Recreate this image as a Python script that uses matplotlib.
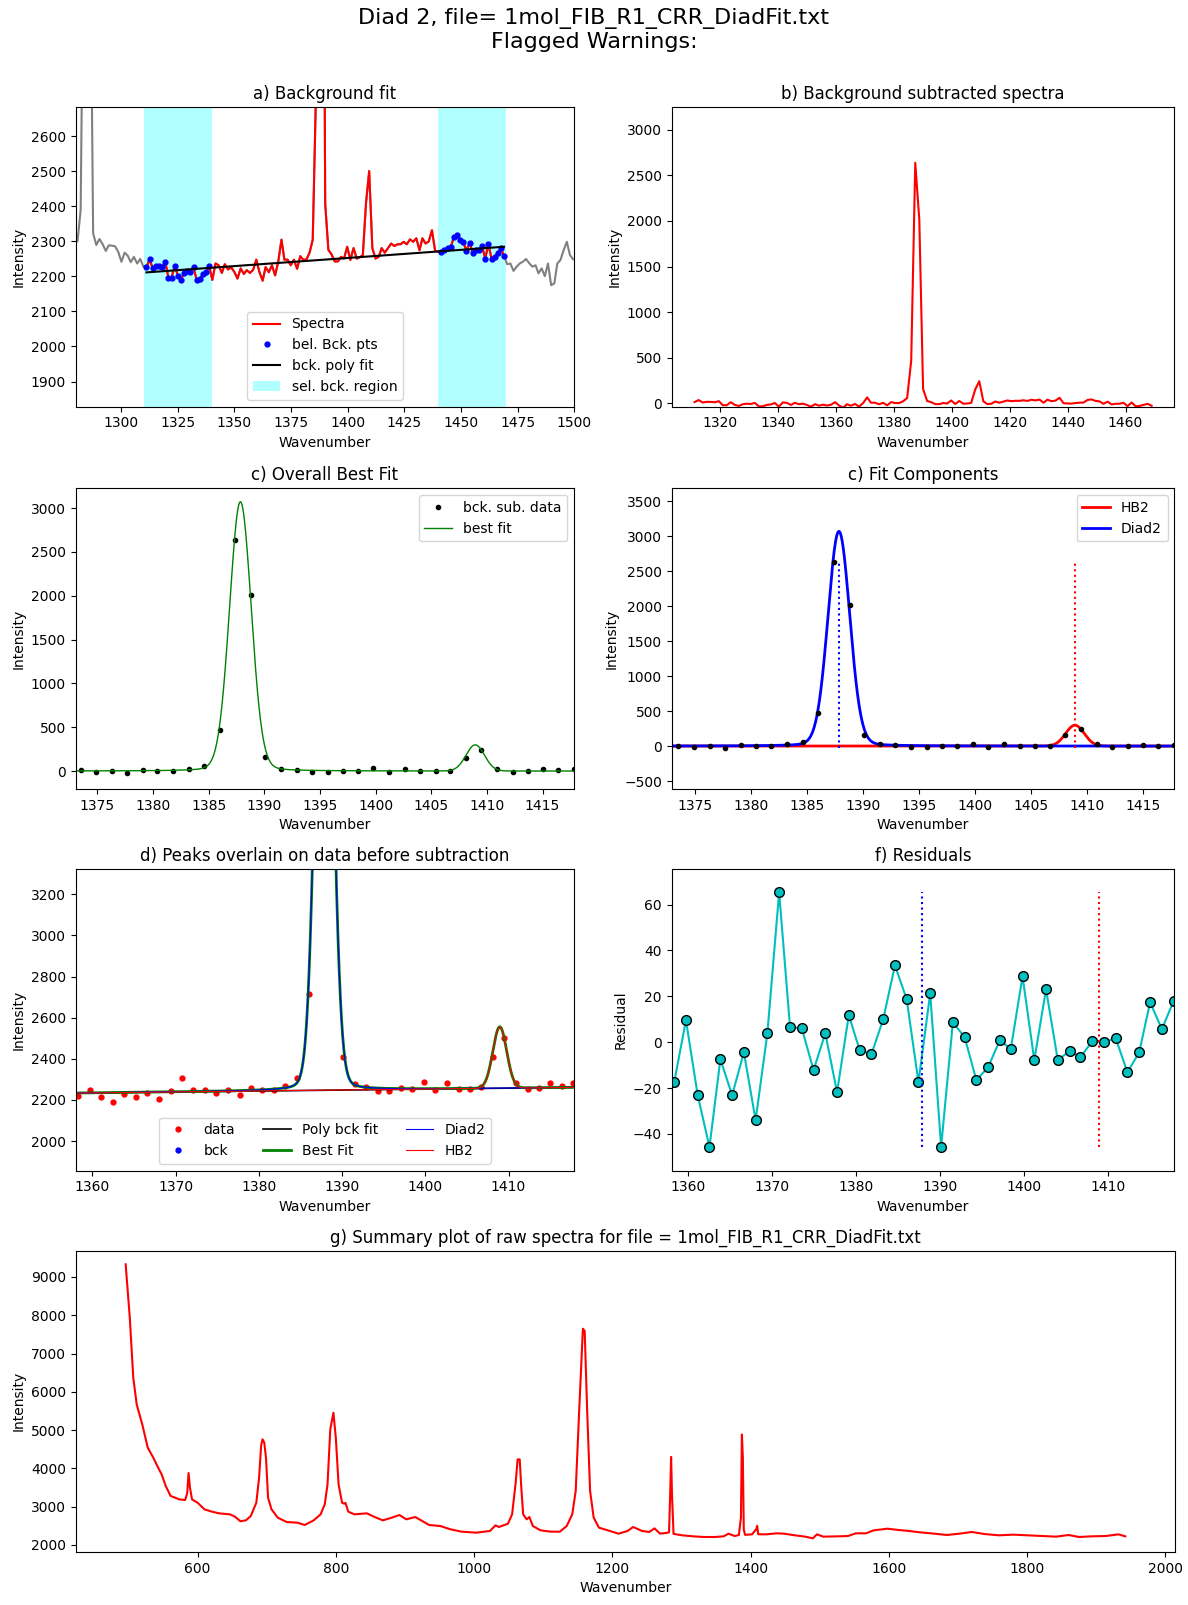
import numpy as np
import matplotlib.pyplot as plt

filename = '1mol_FIB_R1_CRR_DiadFit.txt'

# summary spectrum
raw_wn = [496, 502, 507, 512, 520, 528, 536, 543, 548, 554,
          561, 574, 582, 585, 587, 589, 592, 600, 610, 621,
          631, 647, 654, 662, 670, 677, 685, 689, 692, 694,
          696.5, 699, 702, 707, 716, 729, 744.5, 755, 768, 778,
          784, 788, 792, 796.5, 800, 804, 809, 812, 814, 818,
          827, 845, 855, 868, 881, 892, 902, 915, 925, 935,
          951, 966, 982, 1003, 1023, 1031, 1036, 1049, 1055, 1060,
          1063, 1066, 1068, 1071, 1076, 1080, 1085, 1096, 1111, 1124,
          1134, 1142, 1147, 1152, 1157.4, 1160, 1163.6, 1167.8, 1173, 1180.6,
          1193.5, 1209, 1222, 1230, 1243, 1253.5, 1261, 1269, 1277, 1282,
          1283.6, 1285, 1286.3, 1288.5, 1301, 1317, 1332, 1348, 1361, 1368,
          1377, 1383, 1386, 1387.4, 1388.8, 1390.1, 1392, 1402, 1408, 1409.5,
          1411, 1422.5, 1438, 1448, 1464, 1479, 1490, 1496, 1505, 1526,
          1541, 1552, 1567, 1578, 1598, 1614, 1629, 1645, 1666, 1684,
          1702, 1720, 1738, 1759, 1780, 1800, 1821, 1842, 1860, 1875,
          1893, 1914, 1932, 1942]
raw_int = [9330, 7930, 6370, 5670, 5150, 4540, 4280, 4020, 3845, 3540,
           3280, 3190, 3175, 3350, 3880, 3500, 3190, 3105, 2930, 2870,
           2827, 2800, 2740, 2620, 2645, 2757, 3105, 3757, 4600, 4760,
           4672, 4280, 3236, 2931, 2714, 2600, 2583, 2522, 2644, 2801,
           3062, 3584, 5020, 5453, 4800, 3584, 3105, 3080, 3100, 2870,
           2801, 2827, 2740, 2644, 2714, 2783, 2670, 2731, 2627, 2522,
           2496, 2409, 2348, 2322, 2366, 2513, 2470, 2557, 2801, 3600,
           4236, 4236, 3584, 2801, 2670, 2731, 2496, 2383, 2348, 2348,
           2496, 2801, 3410, 5497, 7647, 7586, 5497, 3410, 2714, 2452,
           2383, 2296, 2366, 2470, 2366, 2340, 2435, 2296, 2313, 2330,
           3300, 4300, 3300, 2290, 2253, 2226, 2209, 2209, 2226, 2296,
           2235, 2260, 2714, 4885, 4261, 2407, 2265, 2278, 2409, 2501,
           2281, 2278, 2305, 2296, 2253, 2218, 2174, 2278, 2218, 2226,
           2235, 2305, 2305, 2383, 2426, 2392, 2366, 2331, 2296, 2261,
           2296, 2340, 2287, 2253, 2270, 2253, 2235, 2218, 2261, 2209,
           2226, 2235, 2278, 2226]

# raw spectrum around diad 2 (panels a-f)
wn = [1279.4,
      1280.8, 1282.2, 1283.6, 1285.0, 1286.3, 1287.7, 1289.1, 1290.5, 1291.9, 1293.3,
      1294.6, 1296.0, 1297.4, 1298.8, 1300.2, 1301.6, 1302.9, 1304.3, 1305.7, 1307.1,
      1308.5, 1309.9, 1311.2, 1312.6, 1314.0, 1315.4, 1316.8, 1318.2, 1319.6, 1320.9,
      1322.3, 1323.7, 1325.1, 1326.5, 1327.9, 1329.2, 1330.6, 1332.0, 1333.4, 1334.8,
      1336.2, 1337.5, 1338.9, 1340.3, 1341.7, 1343.1, 1344.5, 1345.8, 1347.2, 1348.6,
      1350.0, 1351.4, 1352.8, 1354.2, 1355.5, 1356.9, 1358.3, 1359.7, 1361.1, 1362.5,
      1363.8, 1365.2, 1366.6, 1368.0, 1369.4, 1370.8, 1372.1, 1373.5, 1374.9, 1376.3,
      1377.7, 1379.1, 1380.4, 1381.8, 1383.2, 1384.6, 1386.0, 1387.4, 1388.8, 1390.1,
      1391.5, 1392.9, 1394.3, 1395.7, 1397.1, 1398.4, 1399.8, 1401.2, 1402.6, 1404.0,
      1405.4, 1406.7, 1408.1, 1409.5, 1410.9, 1412.3, 1413.7, 1415.0, 1416.4, 1417.8,
      1419.2, 1420.6, 1422.0, 1423.4, 1424.7, 1426.1, 1427.5, 1428.9, 1430.3, 1431.7,
      1433.0, 1434.4, 1435.8, 1437.2, 1438.6, 1440.0, 1441.3, 1442.7, 1444.1, 1445.5,
      1446.9, 1448.3, 1449.6, 1451.0, 1452.4, 1453.8, 1455.2, 1456.6, 1458.0, 1459.3,
      1460.7, 1462.1, 1463.5, 1464.9, 1466.3, 1467.6, 1469.0, 1470.4, 1471.8, 1473.2,
      1474.6, 1475.9, 1477.3, 1478.7, 1480.1, 1481.5, 1482.9, 1484.2, 1485.6, 1487.0,
      1488.4, 1489.8, 1491.2, 1492.5, 1493.9, 1495.3, 1496.7, 1498.1, 1499.5]
counts = [2300,
          2300, 2390, 3300, 4300, 3300, 2323, 2290, 2307, 2292, 2273,
          2289, 2288, 2286, 2270, 2242, 2268, 2260, 2241, 2256, 2237,
          2250, 2228, 2226, 2249, 2223, 2231, 2231, 2228, 2240, 2197,
          2197, 2231, 2202, 2191, 2211, 2217, 2214, 2227, 2189, 2192,
          2208, 2212, 2230, 2190, 2237, 2232, 2210, 2235, 2220, 2226,
          2213, 2194, 2223, 2207, 2218, 2210, 2219, 2248, 2212, 2188,
          2227, 2212, 2232, 2203, 2243, 2305, 2248, 2248, 2232, 2248,
          2222, 2258, 2248, 2248, 2268, 2305, 2714, 4885, 4261, 2407,
          2276, 2263, 2243, 2243, 2256, 2251, 2285, 2247, 2281, 2251,
          2255, 2261, 2409, 2501, 2281, 2251, 2256, 2281, 2268, 2281,
          2294, 2287, 2292, 2292, 2299, 2292, 2306, 2299, 2309, 2275,
          2309, 2294, 2300, 2332, 2273, 2271, 2270, 2277, 2281, 2284,
          2313, 2319, 2304, 2299, 2273, 2297, 2268, 2275, 2277, 2287,
          2251, 2292, 2251, 2256, 2268, 2280, 2259, 2235, 2237, 2216,
          2228, 2237, 2242, 2250, 2238, 2228, 2232, 2209, 2223, 2201,
          2237, 2175, 2180, 2237, 2247, 2275, 2299, 2261, 2249]

# residuals (data - fit) between 1358 and 1418
resid = [-17.4, 9.6, -23.1, -45.7, -7.4, -23.1, -4.4, -34.0, 3.9, 65.3,
         6.5, 6.1, -12.2, 3.9, -21.8, 11.8, -3.5, -5.2, 10.0, 33.5,
         18.7, -17.4, 21.3, -45.7, 8.7, 2.2, -16.5, -10.9, 0.9, -3.0,
         28.7, -7.8, 23.1, -7.8, -3.9, -6.5, 0.4, 0.0, 1.7, -13.1,
         -4.4, 17.4, 5.7, 18.0]

# fitted peak parameters
diad2_cen, diad2_height, diad2_fwhm, diad2_lfrac = 1387.85, 3072, 2.3, 0.08
hb2_cen, hb2_height, hb2_fwhm = 1408.95, 298, 1.95

bck_lo = (1310, 1340)
bck_hi = (1440, 1470)


def pvoigt(x, cen, height, fwhm, frac=0.0):
    g = np.exp(-4 * np.log(2) * (x - cen) ** 2 / fwhm ** 2)
    l = 1 / (1 + 4 * (x - cen) ** 2 / fwhm ** 2)
    return height * ((1 - frac) * g + frac * l)


wn = np.array(wn)
counts = np.array(counts)
in_range = (wn >= bck_lo[0]) & (wn <= bck_hi[1])
is_bck = ((wn >= bck_lo[0]) & (wn <= bck_lo[1])) | ((wn > bck_hi[0]) & (wn <= bck_hi[1]))

# linear background through the selected regions
poly = np.polyfit(wn[is_bck], counts[is_bck], 1)
x_spec = wn[in_range]
y_spec = counts[in_range]
y_sub = y_spec - np.polyval(poly, x_spec)

xf = np.linspace(1355, 1420, 3000)
diad2_fit = pvoigt(xf, diad2_cen, diad2_height, diad2_fwhm, diad2_lfrac)
hb2_fit = pvoigt(xf, hb2_cen, hb2_height, hb2_fwhm)
best_fit = diad2_fit + hb2_fit
base_f = np.polyval(poly, xf)

fig = plt.figure(figsize=(11.88, 16.05), dpi=100)
fig.suptitle('Diad 2, file= ' + filename + '\nFlagged Warnings:', fontsize=16, y=0.995)

ax_a = fig.add_axes([0.0637, 0.7466, 0.4197, 0.1865])
ax_b = fig.add_axes([0.5654, 0.7466, 0.4232, 0.1865])
ax_c = fig.add_axes([0.0637, 0.5084, 0.4197, 0.1873])
ax_cc = fig.add_axes([0.5654, 0.5084, 0.4232, 0.1873])
ax_d = fig.add_axes([0.0637, 0.2706, 0.4197, 0.1878])
ax_f = fig.add_axes([0.5654, 0.2706, 0.4232, 0.1878])
ax_g = fig.add_axes([0.0637, 0.0330, 0.9256, 0.1878])

# a) background fit
ax_a.plot(wn, counts, '-', color='grey', lw=1.5)
ax_a.plot(x_spec, y_spec, '-r', lw=1.5, label='Spectra')
ax_a.plot(wn[is_bck], counts[is_bck], '.b', ms=7, label='bel. Bck. pts')
ax_a.plot(x_spec, np.polyval(poly, x_spec), '-k', lw=1.5, label='bck. poly fit')
ax_a.axvspan(bck_lo[0], bck_lo[1], color='cyan', alpha=0.3, lw=0, label='sel. bck. region')
ax_a.axvspan(bck_hi[0], bck_hi[1], color='cyan', alpha=0.3, lw=0)
ax_a.set_xlim(1280, 1500)
ax_a.set_ylim(1828, 2683)
ax_a.set_title('a) Background fit', fontsize=12)
ax_a.set_xlabel('Wavenumber')
ax_a.set_ylabel('Intensity')
ax_a.legend(loc='lower center')

# b) background subtracted
ax_b.plot(x_spec, y_sub, '-r', lw=1.5)
ax_b.set_ylim(-36, 3245)
ax_b.set_title('b) Background subtracted spectra', fontsize=12)
ax_b.set_xlabel('Wavenumber')
ax_b.set_ylabel('Intensity')

# c) overall best fit
ax_c.plot(x_spec, y_sub, '.k', ms=6, label='bck. sub. data')
ax_c.plot(xf, best_fit, '-g', lw=1, label='best fit')
ax_c.set_xlim(1373.05, 1417.85)
ax_c.set_ylim(-205, 3224)
ax_c.set_title('c) Overall Best Fit', fontsize=12)
ax_c.set_xlabel('Wavenumber')
ax_c.set_ylabel('Intensity')
ax_c.legend(loc='upper right')

# c) fit components
win = (x_spec > 1373) & (x_spec < 1418)
ax_cc.plot(xf, hb2_fit, '-r', lw=2, label='HB2')
ax_cc.plot(xf, diad2_fit, '-b', lw=2, label='Diad2')
ax_cc.plot(x_spec, y_sub, '.k', ms=6)
ax_cc.plot([diad2_cen, diad2_cen], [y_sub[win].min(), y_sub[win].max()], ':b')
ax_cc.plot([hb2_cen, hb2_cen], [y_sub[win].min(), y_sub[win].max()], ':r')
ax_cc.set_xlim(1372.9, 1417.85)
ax_cc.set_ylim(-0.2 * best_fit.max(), 1.2 * best_fit.max())
ax_cc.set_title('c) Fit Components', fontsize=12)
ax_cc.set_xlabel('Wavenumber')
ax_cc.set_ylabel('Intensity')
ax_cc.legend(loc='upper right')

# d) peaks overlain on raw data
ax_d.plot(x_spec, y_spec, '.r', ms=7, label='data')
ax_d.plot(wn[is_bck], counts[is_bck], '.b', ms=7, label='bck')
ax_d.plot(xf, base_f, '-k', lw=1.2, label='Poly bck fit')
ax_d.plot(xf, base_f + best_fit, '-g', lw=2, label='Best Fit')
ax_d.plot(xf, base_f + diad2_fit, '-b', lw=0.8, label='Diad2')
ax_d.plot(xf, base_f + hb2_fit, '-r', lw=0.8, label='HB2')
ax_d.set_xlim(1358.0, 1417.9)
ax_d.set_ylim(1856, 3322)
ax_d.set_title('d) Peaks overlain on data before subtraction', fontsize=12)
ax_d.set_xlabel('Wavenumber')
ax_d.set_ylabel('Intensity')
ax_d.legend(loc='lower center', ncol=3)

# f) residuals
x_res = x_spec[(x_spec > 1358) & (x_spec < 1418)]
ax_f.plot(x_res, resid, '-c', marker='o', mfc='c', mec='k', ms=7)
ax_f.plot([diad2_cen, diad2_cen], [min(resid), max(resid)], ':b')
ax_f.plot([hb2_cen, hb2_cen], [min(resid), max(resid)], ':r')
ax_f.set_xlim(1358.0, 1417.9)
ax_f.set_ylim(-56, 75.4)
ax_f.set_title('f) Residuals', fontsize=12)
ax_f.set_xlabel('Wavenumber')
ax_f.set_ylabel('Residual')

# g) summary of raw spectrum
ax_g.plot(raw_wn, raw_int, '-r', lw=1.5)
ax_g.set_title('g) Summary plot of raw spectra for file = ' + filename, fontsize=12)
ax_g.set_xlabel('Wavenumber')
ax_g.set_ylabel('Intensity')

fig.savefig('out.png', dpi=100)
